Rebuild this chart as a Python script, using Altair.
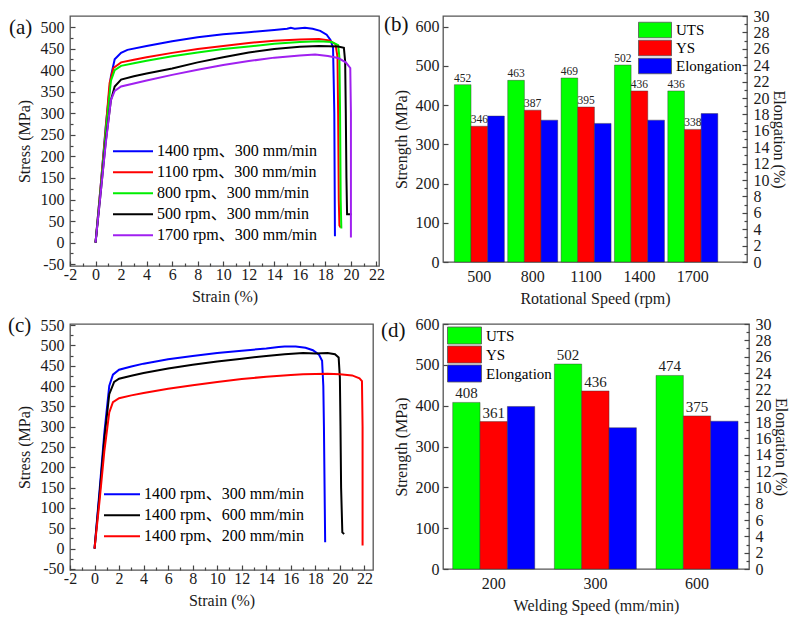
import altair as alt
import pandas as pd

SERIF = "Liberation Serif, Noto Sans CJK SC, serif"

# ---------------- panel (a): stress-strain, rotational speed ----------------
A_NAMES = ["1400 rpm、300 mm/min", "1100 rpm、300 mm/min", "800 rpm、300 mm/min",
           "500 rpm、300 mm/min", "1700 rpm、300 mm/min"]
A_COLORS = ["#0000ff", "#ff0000", "#00ee00", "#000000", "#a020f0"]

A1400_STRAIN = [0, 0.4, 0.8, 1.2, 1.5, 2, 2.5, 4, 6, 8, 10, 12, 14, 15, 15.3, 15.6, 16.4, 17, 17.6, 18.1, 18.4, 18.6, 18.65, 18.7, 18.75]
A1400_STRESS = [0, 130, 270, 385, 425, 440, 447, 456, 467, 476, 483, 488, 493, 496, 498, 496, 498, 496, 491, 482, 470, 452, 380, 300, 15]
A1100_STRAIN = [0, 0.4, 0.8, 1.1, 1.4, 2, 3, 4, 6, 8, 10, 12, 14, 16, 17.5, 18.3, 18.8, 18.95, 19.0, 19.05, 19.1, 19.2]
A1100_STRESS = [0, 130, 265, 370, 405, 418, 424, 430, 440, 449, 456, 463, 468, 471, 472, 469, 460, 430, 300, 100, 40, 35]
A800_STRAIN = [0, 0.4, 0.8, 1.2, 1.5, 2, 3, 4, 6, 8, 10, 12, 14, 16, 17.5, 18.5, 19.0, 19.1, 19.15, 19.2, 19.25]
A800_STRESS = [0, 125, 255, 375, 400, 410, 416, 422, 432, 441, 449, 455, 461, 465, 467, 465, 458, 430, 300, 100, 33]
A500_STRAIN = [0, 0.4, 0.8, 1.2, 1.5, 2, 3, 4, 6, 8, 10, 12, 14, 16, 17.5, 19, 19.45, 19.55, 19.6, 19.65, 19.7, 20.05]
A500_STRESS = [0, 115, 235, 330, 362, 378, 386, 392, 404, 418, 430, 441, 449, 454, 456, 455, 452, 420, 300, 150, 66, 66]
A1700_STRAIN = [0, 0.4, 0.8, 1.2, 1.5, 2, 3, 4, 6, 8, 10, 12, 14, 16, 17.2, 18.2, 19, 19.6, 19.95, 20.0, 20.0]
A1700_STRESS = [0, 115, 230, 330, 352, 362, 369, 376, 389, 401, 412, 421, 429, 434, 436, 433, 428, 418, 405, 300, 12]

# ---------------- panel (c): stress-strain, welding speed ----------------
C_NAMES = ["1400 rpm、300 mm/min", "1400 rpm、600 mm/min", "1400 rpm、200 mm/min"]
C_COLORS = ["#0000ff", "#000000", "#ff0000"]

C300_STRAIN = [0, 0.4, 0.8, 1.2, 1.5, 2, 3, 4, 6, 8, 10, 12, 14, 15, 15.5, 16.4, 17.2, 17.8, 18.3, 18.55, 18.65, 18.7, 18.8]
C300_STRESS = [0, 140, 285, 400, 428, 440, 448, 455, 466, 474, 481, 487, 492, 496, 497, 497, 494, 488, 477, 462, 400, 300, 16]
C600_STRAIN = [0, 0.4, 0.8, 1.2, 1.6, 2, 3, 4, 6, 8, 10, 12, 14, 15.5, 17, 18, 19, 19.6, 19.9, 20.0, 20.05, 20.1, 20.2, 20.35]
C600_STRESS = [0, 130, 270, 380, 410, 418, 425, 432, 443, 452, 460, 467, 474, 478, 481, 480, 481, 478, 470, 420, 300, 150, 40, 36]
C200_STRAIN = [0, 0.4, 0.8, 1.2, 1.5, 2, 3, 4, 6, 8, 10, 12, 14, 16, 17, 19, 20, 21, 21.6, 21.8, 21.85, 21.85]
C200_STRESS = [0, 115, 240, 335, 360, 370, 377, 383, 393, 402, 410, 417, 423, 427, 429, 430, 429, 426, 419, 412, 300, 8]

# ---------------- panel (b): bars vs rotational speed ----------------
METRICS = ["UTS", "YS", "Elongation"]
METRIC_COLORS = ["#00ff00", "#ff0000", "#0000ff"]

B_SPEED = ["500", "800", "1100", "1400", "1700"]
B_UTS = [452, 463, 469, 502, 436]
B_YS = [346, 387, 395, 436, 338]
B_ELONG = [17.8, 17.3, 16.9, 17.3, 18.1]

# ---------------- panel (d): bars vs welding speed ----------------
D_SPEED = ["200", "300", "600"]
D_UTS = [408, 502, 474]
D_YS = [361, 436, 375]
D_ELONG = [19.9, 17.3, 18.1]


def num_axis(vals, major, title, orient, label_pad=4, title_pad=4):
    test = f"datum.value % {major} === 0"
    return alt.Axis(
        values=vals, orient=orient, title=title,
        labelExpr=f"({test}) ? ('' + datum.value) : ''",
        tickSize={"condition": {"test": test, "value": -5}, "value": -3},
        labelPadding=label_pad, titlePadding=title_pad,
    )


def panel_label(text, px, py):
    return alt.Chart(pd.DataFrame({"lab": [text]})).mark_text(
        align="left", baseline="middle", fontSize=21, font=SERIF, color="#111111"
    ).encode(x=alt.value(px), y=alt.value(py), text="lab:N")


def line_panel(curves, names, colors, xdom, ydom, yvals, w, h, lx, ly, symlen, label, px, py):
    rows = []
    for name, (xs, ys) in zip(names, curves):
        for i, (a, b) in enumerate(zip(xs, ys)):
            rows.append({"curve": name, "strain": a, "stress": b, "idx": i})
    df = pd.DataFrame(rows)
    lines = alt.Chart(df).mark_line(strokeWidth=2).encode(
        x=alt.X("strain:Q", scale=alt.Scale(domain=xdom, nice=False, zero=False),
                axis=num_axis(list(range(-2, 23)), 2, "Strain (%)", "bottom", label_pad=5, title_pad=4)),
        y=alt.Y("stress:Q", scale=alt.Scale(domain=ydom, nice=False, zero=False),
                axis=num_axis(yvals, 50, "Stress (MPa)", "left", label_pad=11, title_pad=8)),
        color=alt.Color("curve:N", scale=alt.Scale(domain=names, range=colors),
                        legend=alt.Legend(title=None, orient="none", legendX=lx, legendY=ly,
                                          symbolType="stroke", symbolSize=symlen * symlen,
                                          symbolStrokeWidth=2, clipHeight=20.3, rowPadding=0,
                                          padding=0, labelOffset=3, labelFontSize=16,
                                          labelFont=SERIF, labelLimit=400)),
        order=alt.Order("idx:Q"),
    )
    return alt.layer(lines, panel_label(label, px, py)).properties(width=w, height=h)


def bar_panel(cats, uts, ys, el, xtitle, w, h, ydom, pin, pout, align, lx, ly, boxw, boxh,
              clip, lab_fs, label, px, py):
    n = len(cats)
    sdf = pd.DataFrame({"cat": cats * 2, "metric": ["UTS"] * n + ["YS"] * n, "value": uts + ys})
    edf = pd.DataFrame({"cat": cats, "metric": ["Elongation"] * n, "value": el})
    x = alt.X("cat:N", sort=cats,
              scale=alt.Scale(paddingInner=pin, paddingOuter=pout, align=align),
              axis=alt.Axis(title=xtitle, labelAngle=0, ticks=False, labelPadding=6, titlePadding=6))
    xo = alt.XOffset("metric:N", sort=METRICS,
                     scale=alt.Scale(domain=METRICS, paddingInner=0, paddingOuter=0))
    half = boxh / boxw
    color = alt.Color("metric:N", scale=alt.Scale(domain=METRICS, range=METRIC_COLORS),
                      legend=alt.Legend(title=None, orient="none", legendX=lx, legendY=ly,
                                        symbolType=f"M-1,-{half:.3f}H1V{half:.3f}H-1Z",
                                        symbolSize=boxw * boxw, symbolStrokeColor="#555555",
                                        symbolStrokeWidth=0.8, symbolOpacity=1,
                                        clipHeight=clip, rowPadding=0, padding=0,
                                        labelOffset=4, labelFontSize=15, labelFont=SERIF))
    bar_style = dict(stroke="#333333", strokeWidth=0.6, strokeOpacity=0.7, opacity=1)
    ys_axis = num_axis(list(range(0, 601, 25)), 50, "Strength (MPa)", "left", label_pad=9, title_pad=6)
    bars_s = alt.Chart(sdf).mark_bar(**bar_style).encode(
        x=x, xOffset=xo,
        y=alt.Y("value:Q", scale=alt.Scale(domain=ydom, nice=False, zero=True), axis=ys_axis),
        color=color)
    text_s = alt.Chart(sdf).mark_text(baseline="bottom", dy=-1, fontSize=lab_fs, font=SERIF,
                                      color="#222222").encode(
        x=x, xOffset=xo, y=alt.Y("value:Q"), text=alt.Text("value:Q"))
    bars_e = alt.Chart(edf).mark_bar(**bar_style).encode(
        x=x, xOffset=xo,
        y=alt.Y("value:Q", scale=alt.Scale(domain=[0, 30], nice=False, zero=True),
                axis=num_axis(list(range(0, 31)), 2, "Elongation (%)", "right", label_pad=11, title_pad=1)),
        color=color)
    return alt.layer(alt.layer(bars_s, text_s, panel_label(label, px, py)), bars_e).resolve_scale(
        y="independent").properties(width=w, height=h)


pa = line_panel([(A1400_STRAIN, A1400_STRESS), (A1100_STRAIN, A1100_STRESS), (A800_STRAIN, A800_STRESS),
                 (A500_STRAIN, A500_STRESS), (A1700_STRAIN, A1700_STRESS)],
                A_NAMES, A_COLORS, [-2, 22.2], [-54, 525.5], list(range(-50, 501, 25)),
                309, 250, 42, 125, 40, "(a)", -61, 12)
pc = line_panel([(C300_STRAIN, C300_STRESS), (C600_STRAIN, C600_STRESS), (C200_STRAIN, C200_STRESS)],
                C_NAMES, C_COLORS, [-2, 22.7], [-52.5, 552.5], list(range(-50, 551, 25)),
                303, 246, 33, 160, 36, "(c)", -62, 2)
pb = bar_panel(B_SPEED, B_UTS, B_YS, B_ELONG, "Rotational Speed (rpm)", 304, 246, [0, 627],
               0.063, 0.38, 0.28, 195, 5, 33, 15.5, 18, 11.5, "(b)", -59, 9)
pd_ = bar_panel(D_SPEED, D_UTS, D_YS, D_ELONG, "Welding Speed (mm/min)", 306, 245, [0, 600],
                0.193, 0.1016, 0.47, 4, 2, 34, 17, 19, 15, "(d)", -62, 7)

chart = alt.concat(pa, pb, pc, pd_, columns=2, spacing={"row": 58, "column": 64}, bounds="flush",
                   padding={"left": 7, "top": 7, "right": 5, "bottom": 5},
                   background="white").resolve_scale(
    color="independent", xOffset="independent").resolve_legend(color="independent").configure_axis(
    grid=False, domain=False, labelFont=SERIF, titleFont=SERIF, labelFontSize=16, titleFontSize=16,
    titleFontWeight="normal", labelColor="#1a1a1a", titleColor="#1a1a1a", tickColor="#444444",
    tickWidth=1.2, labelOverlap=False, labelFlush=False).configure_view(
    stroke="#555555", strokeWidth=1.3)

chart.save("out.html", embed_options={"renderer": "svg", "actions": False})
